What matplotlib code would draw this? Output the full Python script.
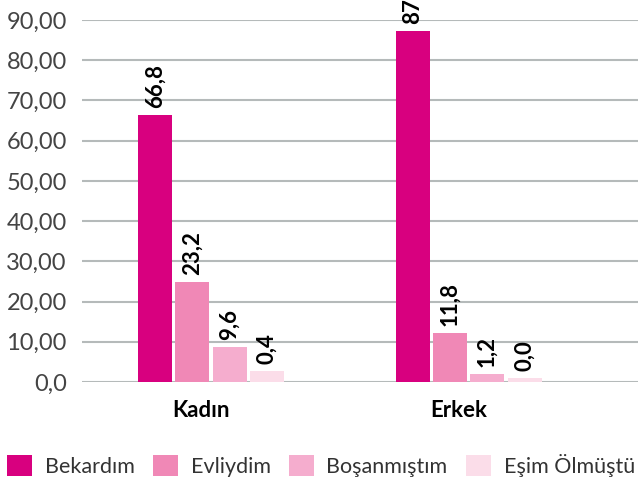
import numpy as np
import matplotlib
matplotlib.use("Agg")
import matplotlib.pyplot as plt
from matplotlib.patches import Patch

categories = ["Kadın", "Erkek"]
series = ["Bekardım", "Evliydim", "Boşanmıştım", "Eşim Ölmüştü"]
colors = ["#D8007F", "#F088B6", "#F5ADCE", "#FBDDE9"]

# bar heights as drawn in the picture (per series: Kadın, Erkek)
heights = [
    [66.5, 87.3],
    [24.9, 12.3],
    [8.8, 2.1],
    [2.8, 1.1],
]
# value labels as printed above the bars
labels = [
    ["66,8", "87,0"],
    ["23,2", "11,8"],
    ["9,6", "1,2"],
    ["0,4", "0,0"],
]
yticks = [0, 10, 20, 30, 40, 50, 60, 70, 80, 90]
yticklabels = ["0,0"] + [f"{v},00" for v in yticks[1:]]

W, H = 638, 479
fig = plt.figure(figsize=(W / 100, H / 100), dpi=100)
ax = fig.add_axes([82 / W, 97 / H, 556 / W, 362 / H])

x = np.arange(len(categories))
width = 0.132
step = 0.145
for i, (s, c) in enumerate(zip(series, colors)):
    pos = x + (i - 1.5) * step
    bars = ax.bar(pos, heights[i], width, color=c, zorder=3, label=s)
    for b, txt in zip(bars, labels[i]):
        ax.annotate(txt, (b.get_x() + b.get_width() / 2, b.get_height()),
                    xytext=(0, 5), textcoords="offset points",
                    rotation=90, ha="center", va="bottom",
                    fontsize=16, fontfamily="Lato", fontweight="bold",
                    color="black", annotation_clip=False)

ax.set_xlim(-0.501, 1.658)
ax.set_ylim(0, 90)
ax.set_yticks(yticks)
ax.set_yticklabels(yticklabels, fontsize=17, fontfamily="Lato", color="#444444")
ax.set_xticks(x - 0.04)
ax.set_xticklabels(categories, fontsize=16, fontfamily="Lato", fontweight="bold", color="black")
ax.tick_params(axis="y", length=0, pad=11)
ax.tick_params(axis="x", length=0, pad=13)
ax.yaxis.grid(True, color="#B5BABA", linewidth=1.5)
ax.set_axisbelow(True)
for sp in ax.spines.values():
    sp.set_visible(False)

handles = [Patch(facecolor=c, edgecolor="none") for c in colors]
fig.legend(handles, series, loc="lower left", bbox_to_anchor=(7 / W, 2 / H),
           ncol=4, frameon=False, borderpad=0, borderaxespad=0,
           handlelength=1.15, handleheight=1.15, handletextpad=0.6,
           columnspacing=0.85, prop={"family": "Lato", "size": 15.5},
           labelcolor="#333333")

fig.savefig("out.png", dpi=100)
